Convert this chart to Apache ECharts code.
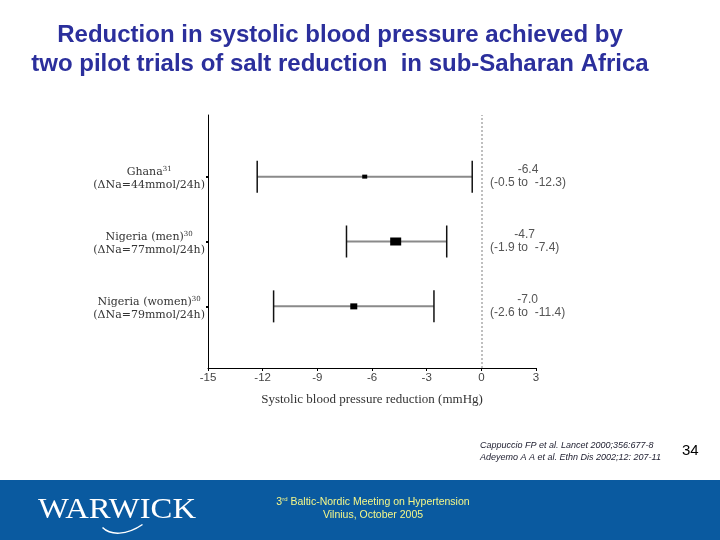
<!DOCTYPE html>
<html>
<head>
<meta charset="utf-8">
<script src="https://cdn.jsdelivr.net/npm/echarts@6/dist/echarts.min.js"></script>
<style>
  html, body { margin: 0; padding: 0; background: #fff; }
  #chart { width: 720px; height: 540px; }
</style>
</head>
<body>
<div id="chart"></div>
<script>
// trial data (mmHg)
const trials = ["Ghana", "Nigeria (men)", "Nigeria (women)"]
const refs = ["31", "30", "30"]
const sodium = ["(\u0394Na=44mmol/24h)", "(\u0394Na=77mmol/24h)", "(\u0394Na=79mmol/24h)"]
const rows = [3, 2, 1]
const meanDiff = [-6.4, -4.7, -7.0]
const lowerCI = [-12.3, -7.4, -11.4]
const upperCI = [-0.5, -1.9, -2.6]
// weight of each trial -> marker size
const markerSize = [[5, 4], [11, 8], [7, 6]]
const xTicks = [-15, -12, -9, -6, -3, 0, 3]

const chart = echarts.init(document.getElementById("chart"))

const serif = "'DejaVu Serif', 'Liberation Serif', serif"
const sans = "'Liberation Sans', Arial, sans-serif"

const option = {
  animation: false,
  title: {
    text: "Reduction in systolic blood pressure achieved by\ntwo pilot trials of salt reduction  in sub-Saharan Africa",
    left: 335,
    top: 16,
    textAlign: "center",
    textStyle: {
      color: "#2b2f9c",
      fontFamily: sans,
      fontWeight: "bold",
      fontSize: 24,
      lineHeight: 29
    }
  },
  grid: { left: 208, right: 184, top: 115, bottom: 172, containLabel: false },
  xAxis: {
    type: "value",
    min: -15,
    max: 3,
    interval: 3,
    name: "Systolic blood pressure reduction (mmHg)",
    nameLocation: "middle",
    nameGap: 25,
    nameTextStyle: { fontFamily: "'Liberation Serif', serif", fontSize: 13, color: "#333" },
    axisLine: { lineStyle: { color: "#000", width: 1 } },
    axisTick: { length: 3, lineStyle: { color: "#000" } },
    axisLabel: {
      margin: 4,
      fontFamily: sans,
      fontSize: 11.5,
      color: "#444",
      formatter: v => (xTicks.includes(v) ? String(v) : "")
    },
    splitLine: { show: false }
  },
  yAxis: [
    {
      type: "value",
      min: 0.05,
      max: 3.95,
      axisLine: { show: true, onZero: false, lineStyle: { color: "#000", width: 1 } },
      axisTick: { show: true, customValues: rows, length: 2, lineStyle: { color: "#000", width: 2 } },
      splitLine: { show: false },
      axisLabel: {
        customValues: rows,
        margin: 3,
        padding: [4, 0, 0, 0],
        formatter: v => {
          const i = rows.indexOf(v)
          if (i < 0) return ""
          return "{n|" + trials[i] + "}{s|" + refs[i] + "}\n{n|" + sodium[i] + "}"
        },
        rich: {
          n: { fontFamily: serif, fontSize: 11, color: "#333", align: "center", lineHeight: 13 },
          s: { fontFamily: serif, fontSize: 7, color: "#333", align: "center", verticalAlign: "top", lineHeight: 13 }
        }
      }
    },
    {
      type: "value",
      min: 0.05,
      max: 3.95,
      position: "right",
      offset: -46,
      axisLine: { show: false, onZero: false },
      axisTick: { show: false },
      splitLine: { show: false },
      axisLabel: {
        customValues: rows,
        margin: 0,
        formatter: v => {
          const i = rows.indexOf(v)
          if (i < 0) return ""
          return "{n|" + meanDiff[i].toFixed(1) + "}\n{n|(" + upperCI[i].toFixed(1) + " to  " + lowerCI[i].toFixed(1) + ")}"
        },
        rich: {
          n: { fontFamily: sans, fontSize: 12, color: "#555", align: "center", lineHeight: 13 }
        }
      }
    }
  ],
  series: [
    {
      // confidence intervals with end caps
      type: "custom",
      data: rows.map((r, i) => [lowerCI[i], upperCI[i], r]),
      renderItem: (params, api) => {
        const lo = api.coord([api.value(0), api.value(2)])
        const hi = api.coord([api.value(1), api.value(2)])
        const cap = 16
        return {
          type: "group",
          children: [
            { type: "line", shape: { x1: lo[0], y1: lo[1], x2: hi[0], y2: hi[1] }, style: { stroke: "#8a8a8a", lineWidth: 2 } },
            { type: "line", shape: { x1: lo[0], y1: lo[1] - cap, x2: lo[0], y2: lo[1] + cap }, style: { stroke: "#111", lineWidth: 1.5 } },
            { type: "line", shape: { x1: hi[0], y1: hi[1] - cap, x2: hi[0], y2: hi[1] + cap }, style: { stroke: "#111", lineWidth: 1.5 } }
          ]
        }
      },
      markLine: {
        silent: true,
        symbol: "none",
        label: { show: false },
        lineStyle: { color: "#aaa", type: [2, 2], width: 1.5 },
        data: [{ xAxis: 0 }]
      },
      z: 2
    },
    {
      type: "scatter",
      symbol: "rect",
      data: rows.map((r, i) => ({ value: [meanDiff[i], r], symbolSize: markerSize[i] })),
      itemStyle: { color: "#000", opacity: 1 },
      z: 3
    }
  ],
  graphic: [
    { type: "rect", left: 0, top: 480, shape: { width: 720, height: 60 }, style: { fill: "#0a5aa0" }, z: -1 },
    {
      type: "text", x: 38, y: 495, scaleX: 1.09,
      style: { text: "WARWICK", fill: "#fff", font: "30px 'Liberation Serif', serif" }
    },
    {
      type: "bezierCurve", left: 100, top: 522,
      shape: { x1: 0, y1: 0, cpx1: 8, cpy1: 8, cpx2: 24, cpy2: 8, x2: 40, y2: -3 },
      style: { stroke: "#fff", lineWidth: 1.5, fill: null }
    },
    {
      type: "text", x: 373, y: 496,
      style: {
        text: "3{sup|rd} Baltic-Nordic Meeting on Hypertension\nVilnius, October 2005",
        fill: "#f4f78a", font: "10.5px 'Liberation Sans', Arial, sans-serif", align: "center", lineHeight: 13,
        rich: { sup: { fill: "#f4f78a", fontSize: 6, verticalAlign: "top", lineHeight: 13 } }
      }
    },
    {
      type: "text", left: 480, top: 439,
      style: {
        text: "Cappuccio FP et al. Lancet 2000;356:677-8\nAdeyemo A A et al. Ethn Dis 2002;12: 207-11",
        fill: "#223", font: "italic 9px 'Liberation Sans', Arial, sans-serif", lineHeight: 12
      }
    },
    {
      type: "text", left: 682, top: 443,
      style: { text: "34", fill: "#000", font: "15px 'Liberation Sans', Arial, sans-serif" }
    }
  ]
}

chart.setOption(option)
</script>
</body>
</html>
